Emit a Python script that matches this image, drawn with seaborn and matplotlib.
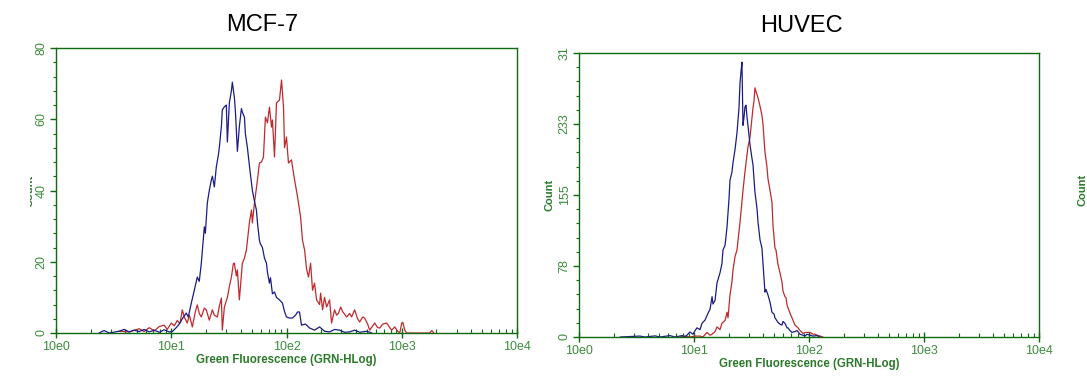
import numpy as np
import matplotlib
matplotlib.use("Agg")
import matplotlib.pyplot as plt
from matplotlib.ticker import FixedLocator, MultipleLocator, NullFormatter, LogLocator
from matplotlib.patches import Rectangle
import seaborn as sns

# flow histograms, x = log10 of green fluorescence, y = count
mcf7_blue_log = [0.374, 0.417, 0.461, 0.548, 0.591, 0.635, 0.678, 0.722, 0.765, 0.809, 0.852, 0.896,
                 0.939, 0.983, 1.009, 1.043, 1.070, 1.096, 1.130, 1.148, 1.174, 1.200, 1.226, 1.243,
                 1.261, 1.287, 1.296, 1.313, 1.330, 1.348, 1.357, 1.374, 1.391, 1.409, 1.417, 1.435,
                 1.443, 1.461, 1.478, 1.487, 1.504, 1.522, 1.530, 1.548, 1.557, 1.574, 1.591, 1.609,
                 1.617, 1.635, 1.643, 1.661, 1.678, 1.704, 1.722, 1.739, 1.748, 1.765, 1.774, 1.791,
                 1.809, 1.826, 1.835, 1.852, 1.861, 1.878, 1.896, 1.913, 1.939, 1.965, 1.983, 2.000,
                 2.026, 2.052, 2.078, 2.096, 2.113, 2.130, 2.165, 2.200, 2.243, 2.287, 2.330, 2.374,
                 2.417, 2.461, 2.504, 2.548, 2.591, 2.635, 2.696, 2.739]
mcf7_blue_count = [0, 0.7, 0, 0.5, 1.0, 0.3, 0.8, 0.4, 1.0, 0.3, 0.8, 0.2,
                   0.9, 0.3, 0.4, 1.5, 2.5, 4.0, 5.6, 4.5, 8.4, 12.0, 15.7, 14.5,
                   19.6, 29.8, 28.0, 36.5, 40.0, 43.0, 44.0, 41.0, 46.6, 50.0, 52.0, 58.0,
                   62.6, 63.5, 64.0, 53.6, 64.6, 68.0, 70.4, 66.0, 62.0, 51.0, 58.0, 63.0,
                   62.0, 60.6, 56.0, 52.0, 47.0, 40.0, 37.0, 34.5, 31.0, 26.0, 25.0, 24.0,
                   21.0, 19.6, 17.0, 14.0, 15.5, 11.0, 11.5, 10.0, 9.3, 8.4, 6.0, 4.5,
                   4.2, 4.2, 5.0, 5.9, 5.9, 2.2, 2.5, 1.4, 0.8, 1.7, 0.5, 0.3,
                   1.0, 0.8, 0.2, 0.3, 0.8, 0.2, 0.5, 0]

mcf7_red_log = [0.548, 0.635, 0.722, 0.765, 0.809, 0.852, 0.896, 0.939, 0.965, 1.000, 1.026, 1.052,
                1.070, 1.078, 1.096, 1.113, 1.139, 1.157, 1.183, 1.209, 1.226, 1.243, 1.261, 1.287,
                1.304, 1.330, 1.357, 1.374, 1.400, 1.417, 1.435, 1.443, 1.461, 1.487, 1.504, 1.522,
                1.539, 1.548, 1.565, 1.574, 1.591, 1.617, 1.635, 1.652, 1.678, 1.696, 1.704, 1.722,
                1.748, 1.765, 1.783, 1.800, 1.817, 1.835, 1.852, 1.870, 1.878, 1.896, 1.913, 1.939,
                1.957, 1.974, 1.983, 2.000, 2.017, 2.043, 2.070, 2.096, 2.122, 2.139, 2.157, 2.174,
                2.191, 2.209, 2.226, 2.243, 2.261, 2.287, 2.296, 2.313, 2.330, 2.348, 2.374, 2.391,
                2.417, 2.435, 2.452, 2.470, 2.487, 2.522, 2.548, 2.565, 2.591, 2.617, 2.635, 2.661,
                2.678, 2.704, 2.722, 2.748, 2.765, 2.791, 2.809, 2.835, 2.870, 2.896, 2.913, 2.939,
                2.965, 2.983, 3.000, 3.009, 3.026, 3.043, 3.243, 3.261, 3.278]
mcf7_red_count = [0.5, 0.3, 1.2, 0.4, 1.5, 0.6, 1.8, 2.2, 1.0, 2.8, 2.0, 3.5,
                  2.8, 3.0, 6.5, 4.5, 2.8, 5.0, 1.7, 6.0, 7.9, 5.5, 4.5, 7.0,
                  6.5, 3.6, 6.5, 5.0, 4.5, 7.5, 9.8, 0.8, 7.3, 10.0, 13.0, 15.7,
                  19.5, 19.6, 16.0, 17.7, 9.3, 19.6, 21.0, 23.3, 30.9, 34.5, 30.9, 36.5,
                  43.0, 47.7, 48.0, 49.4, 60.6, 59.0, 63.4, 57.8, 59.8, 49.4, 64.6, 65.4,
                  71.0, 63.4, 52.0, 55.0, 47.7, 48.6, 43.0, 38.2, 32.6, 26.0, 23.3, 18.0,
                  15.7, 19.6, 12.0, 14.0, 9.3, 8.0, 11.2, 6.5, 10.0, 7.3, 9.3, 2.8,
                  6.5, 5.0, 5.6, 7.3, 6.0, 4.5, 5.5, 4.5, 6.5, 4.0, 3.1, 4.5,
                  4.2, 2.5, 0.8, 2.0, 2.8, 1.5, 1.4, 2.5, 2.8, 1.5, 0.8, 1.7,
                  0.5, 0, 2.8, 3.0, 0.8, 0, 0, 0.7, 0]

huvec_blue_log = [0.357, 0.530, 0.574, 0.661, 0.704, 0.791, 0.835, 0.896, 0.922, 0.939, 0.965, 0.991,
                  1.009, 1.026, 1.052, 1.070, 1.096, 1.122, 1.139, 1.157, 1.165, 1.183, 1.200, 1.226,
                  1.243, 1.252, 1.270, 1.287, 1.304, 1.313, 1.330, 1.339, 1.357, 1.374, 1.391, 1.400,
                  1.409, 1.417, 1.426, 1.435, 1.443, 1.452, 1.461, 1.470, 1.487, 1.504, 1.513, 1.530,
                  1.548, 1.557, 1.574, 1.591, 1.600, 1.617, 1.626, 1.643, 1.661, 1.678, 1.696, 1.704,
                  1.730, 1.748, 1.765, 1.774, 1.791, 1.809, 1.817, 1.835, 1.852, 1.878, 1.896, 1.922,
                  1.948, 1.965, 1.983, 2.009, 2.035, 2.070, 2.096]
huvec_blue_count = [0, 1.0, 0, 1.2, 0, 1.5, 0, 1.5, 0.5, 2, 5.5, 3,
                    7, 10, 8, 15, 18.5, 26, 30, 44, 36, 40, 59, 70,
                    80, 95, 100, 120, 150, 171, 180, 190, 205, 223, 250, 277,
                    290, 300, 231, 240, 251, 253, 240, 230, 210, 195, 188, 158,
                    140, 125, 106, 97, 80, 49, 52, 46, 38, 27, 25, 21,
                    16, 14, 13, 17, 15, 10, 10, 7, 5, 6, 7, 3,
                    2, 1, 3, 2, 1, 1.5, 0]

huvec_red_log = [0.878, 0.904, 0.965, 1.009, 1.052, 1.078, 1.113, 1.139, 1.157, 1.183, 1.200, 1.226,
                 1.243, 1.270, 1.287, 1.296, 1.313, 1.330, 1.339, 1.357, 1.374, 1.400, 1.426, 1.443,
                 1.461, 1.470, 1.487, 1.504, 1.513, 1.522, 1.530, 1.539, 1.557, 1.574, 1.591, 1.600,
                 1.617, 1.635, 1.643, 1.661, 1.678, 1.687, 1.704, 1.713, 1.730, 1.748, 1.765, 1.774,
                 1.791, 1.800, 1.809, 1.817, 1.835, 1.852, 1.878, 1.904, 1.922, 1.948, 1.965, 1.983,
                 2.009, 2.035, 2.052, 2.070, 2.096, 2.122]
huvec_red_count = [0, 1, 0, 1, 1, 0, 5, 2, 3, 6, 11, 8,
                   15, 18, 27, 21, 46, 60, 73, 88, 95, 125, 160, 180,
                   199, 208, 218, 239, 250, 258, 272, 268, 261, 252, 242, 232,
                   202, 185, 173, 160, 147, 122, 97, 95, 79, 70, 60, 50,
                   44, 43, 35, 32, 26, 21, 13, 10, 7, 4, 5, 5,
                   5, 3, 3, 2, 1, 0]

titles = ["MCF-7", "HUVEC"]
x_ticks = [1, 10, 100, 1000, 10000]
x_tick_labels = ["10e0", "10e1", "10e2", "10e3", "10e4"]
mcf7_yticks = [0, 20, 40, 60, 80]
mcf7_ylabels = ["0", "20", "40", "60", "80"]
huvec_yticks = [0, 77.5, 155, 232.5, 310]
huvec_ylabels = ["0", "78", "155", "233", "31"]

blue = "#1c1c84"
red = "#bf2a2e"
spine_green = "#0f6a0f"
tick_green = "#3c8c3c"
label_green = "#2a7a2a"

sns.set_style("white")
plt.rcParams['font.family'] = ['Liberation Sans', 'DejaVu Sans']

W, H = 1087, 384
fig = plt.figure(figsize=(W / 100, H / 100), dpi=100)
ax1 = fig.add_axes([56 / W, 51 / H, 461 / W, 285 / H])
ax2 = fig.add_axes([579 / W, 47 / H, 460 / W, 284 / H])


def style(ax, yticks, ylabels, yminor):
    ax.set_xscale("log")
    ax.set_xlim(1, 10000)
    ax.set_ylim(0, yticks[-1])
    ax.xaxis.set_major_locator(FixedLocator(x_ticks))
    ax.set_xticklabels(x_tick_labels)
    ax.xaxis.set_minor_locator(LogLocator(base=10, subs=range(2, 10)))
    ax.xaxis.set_minor_formatter(NullFormatter())
    ax.yaxis.set_major_locator(FixedLocator(yticks))
    ax.set_yticklabels(ylabels)
    ax.yaxis.set_minor_locator(MultipleLocator(yminor))
    for s in ax.spines.values():
        s.set_color(spine_green)
        s.set_linewidth(1.0)
    ax.tick_params(axis="x", which="both", bottom=True, top=False)
    ax.tick_params(axis="y", which="both", left=True, right=False)
    ax.tick_params(axis="x", which="major", direction="inout", length=7, width=1,
                   color=spine_green, labelcolor=tick_green, labelsize=9, pad=2)
    ax.tick_params(axis="x", which="minor", direction="in", length=3, width=0.8,
                   color=spine_green)
    ax.tick_params(axis="y", which="major", direction="out", length=4, width=1,
                   color=spine_green, labelcolor=tick_green, labelsize=9,
                   labelrotation=90, pad=2)
    ax.tick_params(axis="y", which="minor", direction="out", length=2.5, width=0.8,
                   color=spine_green)
    for lab in ax.get_yticklabels():
        lab.set_va("center")
    ax.set_xlabel("Green Fluorescence (GRN-HLog)", color=label_green,
                  fontweight="bold", fontsize=8.3)
    ax.xaxis.set_label_coords(0.5, -0.075)
    ax.set_ylabel("Count", color=label_green, fontweight="bold", fontsize=8)


sns.lineplot(x=10 ** np.array(mcf7_red_log), y=mcf7_red_count, color=red,
             linewidth=0.9, estimator=None, sort=False, ax=ax1)
sns.lineplot(x=10 ** np.array(mcf7_blue_log), y=mcf7_blue_count, color=blue,
             linewidth=0.9, estimator=None, sort=False, ax=ax1)
sns.lineplot(x=10 ** np.array(huvec_red_log), y=huvec_red_count, color=red,
             linewidth=0.9, estimator=None, sort=False, ax=ax2)
sns.lineplot(x=10 ** np.array(huvec_blue_log), y=huvec_blue_count, color=blue,
             linewidth=0.9, estimator=None, sort=False, ax=ax2)

style(ax1, mcf7_yticks, mcf7_ylabels, 4)
style(ax2, huvec_yticks, huvec_ylabels, 15.5)
ax1.yaxis.set_label_coords(-0.046, 0.5)
ax2.yaxis.set_label_coords(-0.054, 0.5)

fig.text(262 / W, 1 - 25 / H, titles[0], ha="center", va="center", fontsize=17, color="black")
fig.text(801 / W, 1 - 26 / H, titles[1], ha="center", va="center", fontsize=17, color="black")

# cut-off label of the next panel at the right edge
fig.text(1083 / W, 1 - 190 / H, "Count", rotation=90, ha="center", va="center",
         color=label_green, fontweight="bold", fontsize=8)

# the first panel's axis label is mostly hidden in the original
fig.patches.append(Rectangle((0, 0), 30 / W, 1, transform=fig.transFigure,
                             facecolor="white", edgecolor="none", zorder=10))

fig.savefig("out.png", dpi=100, facecolor="white")
